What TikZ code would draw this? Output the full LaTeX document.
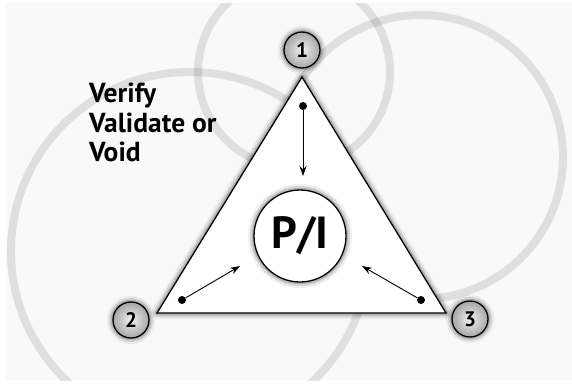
\documentclass[tikz,border=0pt]{standalone}
\usepackage{fontspec}
\setmainfont{PT Sans}
\usetikzlibrary{arrows.meta}
\definecolor{bgc}{HTML}{F9F9F9}
\begin{document}
\begin{tikzpicture}[x=1pt,y=-1pt,
  ring/.style={draw=black,draw opacity=.10,line width=8pt},
  glow/.style={
    preaction={draw=black,draw opacity=.06,line width=12pt,line join=round},
    preaction={draw=black,draw opacity=.10,line width=8pt,line join=round},
    preaction={draw=black,draw opacity=.16,line width=4.5pt,line join=round}},
  numc/.style={circle,draw=black,line width=1.3pt,inner color=gray!10,outer color=gray!70,
    minimum size=36pt,inner sep=0pt,font=\fontsize{21}{21}\selectfont\bfseries,glow},
  dotn/.style={circle,fill=black,minimum size=8pt,inner sep=0pt},
  arr/.style={line width=0.9pt,-{Stealth[length=10pt,width=7pt,inset=3.5pt]}},
  lbl/.style={align=left,anchor=north west,inner sep=0pt,
    font=\fontsize{27.5}{29.5}\selectfont\bfseries}]
\useasboundingbox (0,0) rectangle (572,383);
\fill[white] (0,0) rectangle (572,383);
\fill[bgc] (6,3) rectangle (572,380);
\begin{scope}
\clip (6,3) rectangle (572,380);
\draw[ring] (294,72) circle[radius=96];
\draw[ring] (421,157) circle[radius=142];
\draw[ring] (190,251) circle[radius=179];
\end{scope}
\coordinate (A) at (302,77);
\coordinate (B) at (157,313);
\coordinate (C) at (446,313);
\draw[glow,fill=white,line width=1.3pt,line join=miter] (A) -- (B) -- (C) -- cycle;
\node[circle,draw=black,line width=1.3pt,fill=white,minimum size=92pt,inner sep=0pt,glow,
  font=\fontsize{45}{45}\selectfont\bfseries] (pi) at (300,236) {P/I};
\node[numc] (n1) at (302,50) {1};
\node[numc] (n2) at (131,320) {2};
\node[numc] (n3) at (470,319) {3};
\node[dotn] (d1) at (303,106) {};
\node[dotn] (d2) at (182,300) {};
\node[dotn] (d3) at (421,300) {};
\coordinate (t1) at (303,176);
\coordinate (t2) at (240,266);
\coordinate (t3) at (362,266);
\draw[arr] (d1) -- (t1);
\draw[arr] (d2) -- (t2);
\draw[arr] (d3) -- (t3);
\node[lbl] (txt) at (89,83) {Verify\\Validate or\\Void};
\end{tikzpicture}
\end{document}
